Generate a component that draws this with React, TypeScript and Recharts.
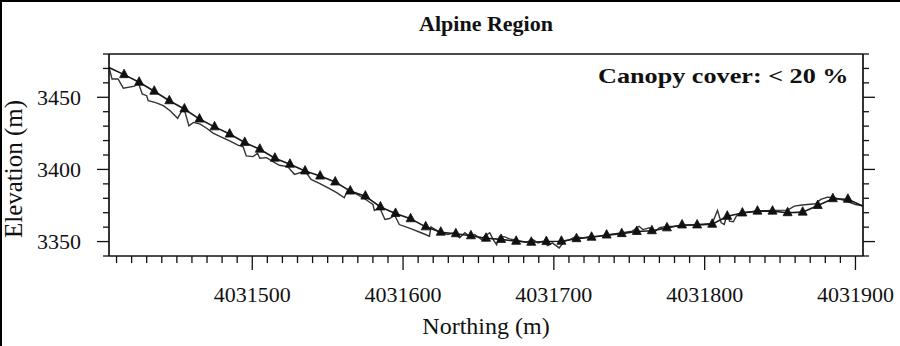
import { LineChart, Line, XAxis, YAxis } from "recharts";

const serif = '"Liberation Serif", "Times New Roman", serif';

// triangle-marked profile (every 10 m)
const markX = [
  4031405, 4031415, 4031425, 4031435, 4031445, 4031455, 4031465, 4031475, 4031485, 4031495,
  4031505, 4031515, 4031525, 4031535, 4031545, 4031555, 4031565, 4031575, 4031585, 4031595,
  4031605, 4031615, 4031625, 4031635, 4031645, 4031655, 4031665, 4031675, 4031685, 4031695,
  4031705, 4031715, 4031725, 4031735, 4031745, 4031755, 4031765, 4031775, 4031785, 4031795,
  4031805, 4031815, 4031825, 4031835, 4031845, 4031855, 4031865, 4031875, 4031885, 4031895,
  4031905,
];
const markElev = [
  3470.6, 3465.7, 3460.4, 3454.2, 3447.6, 3441.9, 3434.9, 3429.5, 3424.5, 3418.7,
  3414.0, 3407.8, 3403.6, 3398.9, 3395.4, 3391.3, 3385.0, 3381.5, 3374.0, 3369.5,
  3365.8, 3360.2, 3356.5, 3355.4, 3354.0, 3352.3, 3351.5, 3350.2, 3349.5, 3350.0,
  3350.2, 3352.0, 3353.0, 3354.5, 3355.5, 3357.0, 3357.5, 3359.5, 3361.5, 3361.5,
  3362.0, 3367.5, 3369.8, 3371.1, 3371.1, 3370.0, 3370.4, 3375.0, 3379.7, 3379.3,
  3374.5,
];

// jagged measured profile
const traceX = [
  4031405, 4031407, 4031411, 4031414.5, 4031422, 4031424.5, 4031427, 4031430, 4031431, 4031435.5,
  4031441, 4031445.5, 4031450.5, 4031454.5, 4031458, 4031461, 4031465.5, 4031470, 4031474, 4031478.5,
  4031485, 4031490.5, 4031494, 4031496, 4031500.5, 4031503.5, 4031505, 4031509.5, 4031514, 4031518,
  4031523.5, 4031528, 4031535, 4031539, 4031544.5, 4031550, 4031556, 4031561, 4031563.5, 4031574.5,
  4031580, 4031581, 4031584.5, 4031588, 4031591, 4031594.5, 4031597.5, 4031605.5, 4031612, 4031617.5,
  4031618.5, 4031623, 4031629.5, 4031634, 4031637.5, 4031641, 4031644, 4031647.5, 4031652, 4031654,
  4031657.5, 4031659.5, 4031662, 4031664, 4031667.5, 4031670.5, 4031675, 4031681.5, 4031686, 4031689.5,
  4031692.5, 4031696, 4031699, 4031703.5, 4031707, 4031710.5, 4031714.5, 4031719, 4031723.5, 4031730,
  4031736.5, 4031745.5, 4031752, 4031756.5, 4031759, 4031763.5, 4031766.5, 4031770, 4031774.5, 4031780,
  4031788.5, 4031805, 4031808.5, 4031811, 4031813, 4031815, 4031816.5, 4031819, 4031821, 4031824,
  4031835, 4031844.5, 4031855, 4031859.5, 4031864.5, 4031873.5, 4031877, 4031881.5, 4031886, 4031892.5,
  4031900, 4031905,
];
const traceElev = [
  3470.9, 3462.7, 3462.7, 3456.3, 3457.7, 3460.0, 3452.3, 3451.1, 3447.6, 3446.5,
  3444.2, 3440.7, 3435.4, 3443.0, 3430.2, 3432.6, 3431.4, 3428.4, 3425.2, 3422.9,
  3419.8, 3416.8, 3415.6, 3409.4, 3408.9, 3411.2, 3407.8, 3408.2, 3405.2, 3402.9,
  3402.0, 3396.6, 3398.9, 3393.1, 3390.4, 3387.4, 3383.9, 3380.4, 3386.2, 3379.7,
  3375.7, 3371.6, 3373.5, 3365.3, 3366.0, 3368.1, 3361.8, 3358.8, 3356.1, 3353.7,
  3360.2, 3357.2, 3354.9, 3356.1, 3352.6, 3356.1, 3353.7, 3354.9, 3351.4, 3353.7,
  3356.1, 3351.9, 3347.9, 3353.7, 3353.3, 3351.9, 3350.9, 3349.5, 3351.4, 3349.1,
  3350.2, 3347.2, 3349.1, 3345.6, 3350.2, 3351.4, 3353.3, 3352.6, 3353.3, 3353.7,
  3354.7, 3356.1, 3357.2, 3360.6, 3358.3, 3359.5, 3356.3, 3359.7, 3360.4, 3360.6,
  3361.3, 3362.5, 3371.6, 3363.0, 3361.8, 3370.0, 3364.1, 3363.7, 3367.6, 3370.0,
  3371.1, 3371.6, 3371.8, 3374.6, 3375.3, 3376.2, 3379.2, 3380.8, 3380.4, 3378.5,
  3375.7, 3374.8,
];

const majorX = [4031500, 4031600, 4031700, 4031800, 4031900];
const majorY = [3350, 3400, 3450];
const xDomain = [4031405, 4031905];
const yDomain = [3340, 3480];

const steps = (from: number, to: number, step: number) => {
  const out: number[] = [];
  for (let v = from; v <= to; v += step) out.push(v);
  return out;
};
const minorX = steps(4031410, 4031900, 10);
const minorY = steps(3340, 3480, 10);

const markData = markX.map((n, i) => ({ n, e: markElev[i] }));
const traceData = traceX.map((n, i) => ({ n, e: traceElev[i] }));

const ink = "#111";

const BottomTick = ({ x, y, payload }: any) => {
  const major = majorX.includes(payload.value);
  return (
    <g>
      <line x1={x} x2={x} y1={y} y2={y + (major ? 14 : 7)} stroke={ink} strokeWidth={1.3} />
      {major && (
        <text x={x} y={y + 46} textAnchor="middle" fontSize={22} fill={ink} fontFamily={serif}>
          {payload.value}
        </text>
      )}
    </g>
  );
};

const TopTick = ({ x, y, payload }: any) => {
  const major = majorX.includes(payload.value);
  return <line x1={x} x2={x} y1={y} y2={y - (major ? 14 : 7)} stroke={ink} strokeWidth={1.3} />;
};

const LeftTick = ({ x, y, payload }: any) => {
  const major = majorY.includes(payload.value);
  return (
    <g>
      <line x1={x - (major ? 12 : 6)} x2={x} y1={y} y2={y} stroke={ink} strokeWidth={1.3} />
      {major && (
        <text x={x - 28} y={y + 7.5} textAnchor="end" fontSize={22} fill={ink} fontFamily={serif}>
          {payload.value}
        </text>
      )}
    </g>
  );
};

const RightTick = ({ x, y, payload }: any) => {
  const major = majorY.includes(payload.value);
  return <line x1={x} x2={x + (major ? 12 : 6)} y1={y} y2={y} stroke={ink} strokeWidth={1.3} />;
};

const TriDot = ({ cx, cy, index }: any) => {
  if (index === 0 || index === markX.length - 1) return <g key={`d${index}`} />;
  return (
    <path
      key={`d${index}`}
      d={`M${cx},${cy - 5.5} L${cx - 4.5},${cy + 3} L${cx + 4.5},${cy + 3} Z`}
      fill="#111"
      stroke="#111"
      strokeWidth={0.8}
    />
  );
};

const axisLine = { stroke: ink, strokeWidth: 1.7 };

export default function App() {
  return (
    <div style={{ position: "absolute", left: 0, top: 0, width: 900, height: 346, background: "#fff", fontFamily: serif }}>
      <div style={{ position: "absolute", left: 0, top: 0, width: 900, height: 2, background: "#000" }} />
      <div style={{ position: "absolute", left: 0, top: 0, width: 2, height: 346, background: "#000" }} />
      <LineChart width={900} height={346} margin={{ top: 53, right: 36, bottom: 89, left: 108 }}>
        <XAxis
          dataKey="n"
          type="number"
          domain={xDomain}
          allowDataOverflow
          ticks={minorX}
          interval={0}
          height={1}
          tickSize={0}
          tickMargin={0}
          tickLine={false}
          axisLine={axisLine}
          tick={(p: any) => <BottomTick {...p} />}
        />
        <XAxis
          xAxisId="top"
          orientation="top"
          type="number"
          domain={xDomain}
          allowDataOverflow
          ticks={minorX}
          interval={0}
          height={1}
          tickSize={0}
          tickMargin={0}
          tickLine={false}
          axisLine={axisLine}
          tick={(p: any) => <TopTick {...p} />}
        />
        <YAxis
          type="number"
          domain={yDomain}
          allowDataOverflow
          ticks={minorY}
          interval={0}
          width={1}
          tickSize={0}
          tickMargin={0}
          tickLine={false}
          axisLine={axisLine}
          tick={(p: any) => <LeftTick {...p} />}
        />
        <YAxis
          yAxisId="right"
          orientation="right"
          type="number"
          domain={yDomain}
          allowDataOverflow
          ticks={minorY}
          interval={0}
          width={1}
          tickSize={0}
          tickMargin={0}
          tickLine={false}
          axisLine={axisLine}
          tick={(p: any) => <RightTick {...p} />}
        />
        <Line
          data={traceData}
          dataKey="e"
          type="linear"
          stroke="#333"
          strokeWidth={1.4}
          dot={false}
          isAnimationActive={false}
        />
        <Line
          data={markData}
          dataKey="e"
          type="linear"
          stroke="#1a1a1a"
          strokeWidth={1.6}
          dot={(p: any) => <TriDot {...p} />}
          isAnimationActive={false}
        />
      </LineChart>
      <div style={{ position: "absolute", left: 109, width: 754, top: 10, textAlign: "center", fontSize: 22, fontWeight: "bold", lineHeight: "28px", color: ink }}>
        Alpine Region
      </div>
      <div style={{ position: "absolute", right: 900 - 849, top: 62, fontSize: 22, fontWeight: "bold", lineHeight: "28px", color: ink, whiteSpace: "pre" }}>
        <span style={{ display: "inline-block", transform: "scaleX(1.19)", transformOrigin: "right center" }}>
          {"Canopy cover: < 20 %"}
        </span>
      </div>
      <div style={{ position: "absolute", left: 109, width: 754, top: 311, textAlign: "center", fontSize: 24, lineHeight: "30px", color: ink }}>
        Northing (m)
      </div>
      <div
        style={{
          position: "absolute",
          left: 14,
          top: 169,
          transform: "translate(-50%, -50%) rotate(-90deg)",
          fontSize: 25,
          lineHeight: "30px",
          color: ink,
          whiteSpace: "nowrap",
        }}
      >
        Elevation (m)
      </div>
    </div>
  );
}
